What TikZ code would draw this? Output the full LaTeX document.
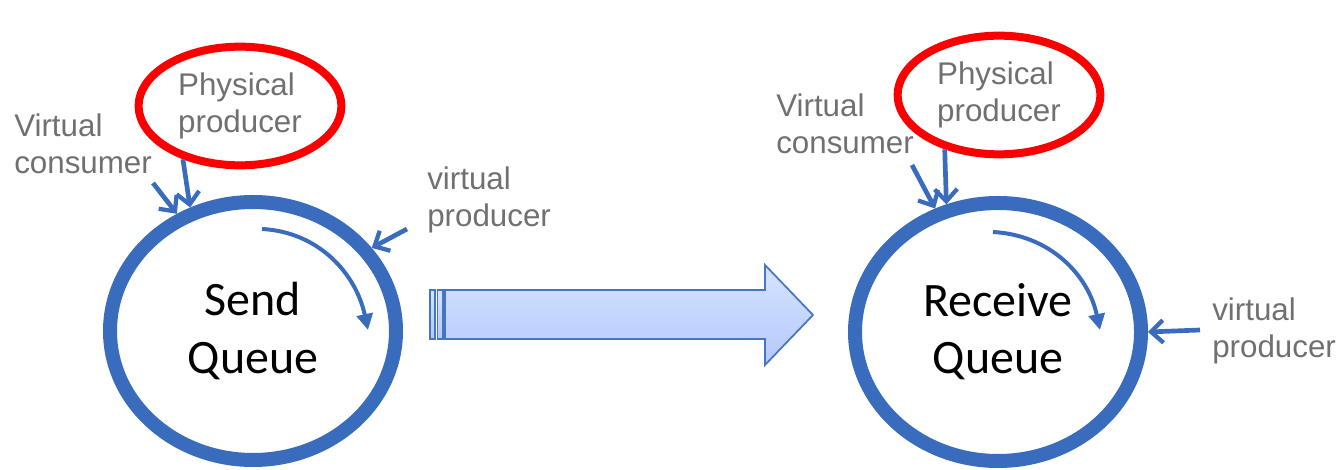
\documentclass[tikz,border=0pt]{standalone}
\usepackage{fontspec}
\usepackage{tikz}
\usetikzlibrary{shapes.geometric}
\usetikzlibrary{arrows.meta}
\newfontfamily\labelfont{Liberation Sans}
\newfontfamily\queuefont{Carlito}
\definecolor{qblue}{RGB}{58,108,190}
\definecolor{pred}{RGB}{250,0,0}
\definecolor{labelgray}{RGB}{112,112,112}
\definecolor{arrowline}{RGB}{72,116,196}
\definecolor{arrowtop}{RGB}{214,228,255}
\definecolor{arrowbot}{RGB}{180,200,250}

\begin{document}
\begin{tikzpicture}[x=0.75pt, y=0.75pt,
            ring/.style = {ellipse, draw=qblue, line width=10.5pt, inner sep=0pt,
                           minimum width=214.5pt, minimum height=193.5pt, align=center,
                           font=\queuefont\fontsize{36}{43}\selectfont},
            phys/.style = {ellipse, draw=pred, line width=6pt, inner sep=0pt,
                           minimum width=152pt, minimum height=89pt, align=left,
                           text=labelgray, font=\labelfont\fontsize{23.5}{28}\selectfont},
            tag/.style = {anchor=west, inner sep=0pt, align=left, text=labelgray,
                          font=\labelfont\fontsize{23.5}{28}\selectfont},
            feed/.style = {draw=qblue, line width=3.5pt,
                           -{Straight Barb[length=9pt,width=17pt,line width=3.2pt]}},
            turn/.style = {draw=qblue, line width=3pt, -{Triangle[length=12pt,width=12pt]}},
            bigarrow/.style = {draw=arrowline, line width=1.3pt, line join=miter,
                               top color=arrowtop, bottom color=arrowbot}
            ]
            \useasboundingbox (0,0) rectangle (1342,470);

            % send side
            \node[ring] (sendq) at (253,139) {Send\\Queue};
            \node[phys] (pp1) at (240,364) {Physical\\producer};
            \node[tag] (vc1) at (14,326) {Virtual\\consumer};
            \node[tag] (vp1) at (427,270) {virtual\\producer};
            \coordinate (vc1t) at (153,287);
            \coordinate (vp1t) at (407,241);
            \coordinate (t1s) at (262,241);
            \coordinate (t1e) at (368,140);
            \draw[feed] (pp1.223) -- (sendq.117.5);
            \draw[feed] (vc1t) -- (sendq.123);
            \draw[feed] (vp1t) -- (sendq.35.6);
            \draw[turn] (t1s) to[out=-3, in=102] (t1e);

            % transfer
            \path[bigarrow] (445,180) -- (765,180) -- (765,205) -- (813,155)
                -- (765,105) -- (765,131) -- (445,131) -- cycle;
            \path[bigarrow] (430,180) rectangle (435,131);
            \path[bigarrow] (437.5,180) rectangle (443,131);

            % receive side
            \node[ring] (recvq) at (998,138) {Receive\\Queue};
            \node[phys] (pp2) at (999,375) {Physical\\producer};
            \node[tag] (vc2) at (776,346) {Virtual\\consumer};
            \node[tag] (vp2) at (1212,139) {virtual\\producer};
            \coordinate (vc2t) at (912,305);
            \coordinate (vp2t) at (1200,140);
            \coordinate (t2s) at (993,238);
            \coordinate (t2e) at (1100,140);
            \draw[feed] (pp2.225.5) -- (recvq.112);
            \draw[feed] (vc2t) -- (recvq.117);
            \draw[feed] (vp2t) -- (recvq.0);
            \draw[turn] (t2s) to[out=-3, in=102] (t2e);
\end{tikzpicture}
\end{document}
